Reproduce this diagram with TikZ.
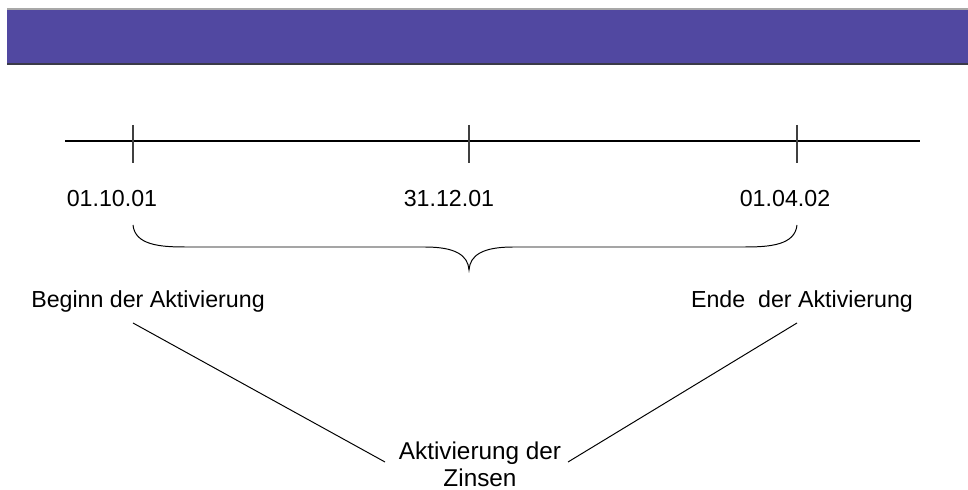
\documentclass[tikz,border=0pt]{standalone}
\usepackage{fontspec}
\setmainfont{Liberation Sans}
\usetikzlibrary{positioning}
\definecolor{barpurple}{HTML}{5148A1}
\definecolor{bartop}{HTML}{A8A8A8}
\definecolor{barbottom}{HTML}{3A3A48}

\begin{document}
\begin{tikzpicture}[
  x=0.025cm, y=-0.025cm,
  txt/.style={font=\fontsize{16.5}{24}\selectfont, inner sep=0pt, anchor=base},
  axis/.style={line width=0.9pt},
  tickmark/.style={line width=0.9pt, draw=black!75},
  thin/.style={line width=0.7pt}
]
  \useasboundingbox (0,0) rectangle (968,490);
  % title bar
  \fill[barpurple] (7,9) rectangle (968,64);
  \draw[bartop, line width=0.8pt] (7,9) -- (968,9);
  \draw[barbottom, line width=1pt] (7,64) -- (968,64);

  % time line
  \coordinate (start) at (65,141);
  \coordinate (stop) at (920,141);
  \draw[axis] (start) -- (stop);
  \coordinate (t1) at (133,141);
  \coordinate (t2) at (469,141);
  \coordinate (t3) at (797,141);
  \foreach \t in {t1,t2,t3}
    \draw[tickmark] (\t) ++(0,-16) -- ++(0,38);

  % dates
  \node[txt] (d1) at (112,207) {01.10.01};
  \node[txt] (d2) at (449,207) {31.12.01};
  \node[txt] (d3) at (785,207) {01.04.02};

  % brace
  \draw[thin] (133,225) .. controls (135,245) and (160,247) .. (185,247) -- (425,247)
    .. controls (455,247) and (468,255) .. (469,270)
    .. controls (470,255) and (483,247) .. (513,247) -- (745,247)
    .. controls (770,247) and (795,245) .. (797,225);

  % labels
  \node[txt] (begin) at (148,308) {Beginn der Aktivierung};
  \node[txt] (end) at (802,308) {Ende\ \ der Aktivierung};
  \node[txt, font=\fontsize{17.3}{19.8}\selectfont, align=center] (zins) at (480,487)
    {Aktivierung der\\ Zinsen};

  \coordinate (bl) at (133,323);
  \coordinate (br) at (797,323);
  \coordinate (zl) at (385,462);
  \coordinate (zr) at (568,462);
  \draw[thin] (bl) -- (zl);
  \draw[thin] (br) -- (zr);
\end{tikzpicture}
\end{document}
